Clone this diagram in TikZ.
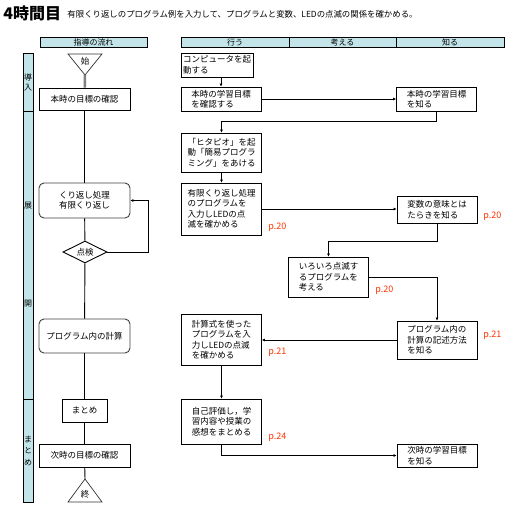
\documentclass[tikz,border=0pt]{standalone}
\usepackage{fontspec}
\setmainfont{Noto Sans CJK JP}
\usetikzlibrary{arrows.meta,shapes.geometric}
\definecolor{hdrblue}{RGB}{195,228,232}
\definecolor{pgred}{RGB}{255,51,0}

\begin{document}
\begin{tikzpicture}[x=1pt, y=-1pt, line width=0.9pt, every node/.style={font=\fontsize{8.5}{10.5}\selectfont, inner sep=0pt}, >={Latex[length=3pt,width=3pt]},
	hdr/.style={draw, fill=hdrblue, minimum height=10, font=\fontsize{8}{9}\selectfont},
	bar/.style={draw, fill=hdrblue, minimum width=10, align=center, font=\fontsize{8}{10}\selectfont},
	flow/.style={draw, fill=white, minimum width=91, align=center},
	rflow/.style={flow, rounded corners=5pt, draw=black!75},
	act/.style={draw, fill=white, minimum width=80, align=left},
	pg/.style={anchor=west, text=pgred, font=\fontsize{9}{10}\selectfont}]
	\useasboundingbox (0,0) rectangle (520,520);
	\node[anchor=west, font=\fontsize{16}{16}\selectfont\bfseries] (title) at (3,13) {4時間目};
	\node[anchor=west, font=\fontsize{8.4}{9}\selectfont] (aim) at (67,14) {有限くり返しのプログラム例を入力して、プログラムと変数、LEDの点滅の関係を確かめる。};
	\node[hdr, minimum width=107] (hflow) at (93.5,42) {指導の流れ};
	\node[hdr, minimum width=108] (hdo) at (235,42) {行う};
	\node[hdr, minimum width=107] (hthink) at (342.5,42) {考える};
	\node[hdr, minimum width=108] (hknow) at (450,42) {知る};
	\node[bar, minimum height=58] (intro) at (28,82) {導\\入};
	\node[bar, minimum height=288] (dev) at (28,255) {展\\[88pt]開};
	\node[bar, minimum height=103] (wrap) at (28,450.5) {ま\\[1.5pt]と\\[1.5pt]め};
	\draw[fill=white, line width=0.7pt, draw=black!80] (68,54) -- (102,54) -- (85,75) -- cycle;
	\draw[fill=white, line width=0.7pt, draw=black!80] (68,502) -- (102,502) -- (85,479) -- cycle;
	\coordinate (s0) at (85,75);
	\coordinate (e0) at (85,479);
	\node (start) at (85,61) {始};
	\node (stop) at (85,494) {終};
	\node[flow, minimum height=22] (goal) at (84.5,99) {本時の目標の確認};
	\node[rflow, minimum height=35] (loop) at (84.5,200.5) {くり返し処理\\有限くり返し};
	\node[draw, diamond, fill=white, aspect=2, minimum width=44, minimum height=22] (check) at (85,252) {点検};
	\node[rflow, minimum height=34] (calc) at (84.5,336) {プログラム内の計算};
	\node[flow, minimum width=45, minimum height=23] (sum) at (84.5,410.5) {まとめ};
	\node[flow, minimum height=23] (nextgoal) at (84.5,455.5) {次時の目標の確認};
	\draw[gray, line width=2.5pt] (s0) -- (goal);
	\draw (goal) -- (loop);
	\draw (loop) -- (check);
	\draw (check) -- (calc);
	\draw (calc) -- (sum);
	\draw (sum) -- (nextgoal);
	\draw (nextgoal) -- (e0);
	\draw[->] (check.east) -- ++(41,0) |- (loop.east);
	\node[act, minimum width=72, minimum height=24] (boot) at (217,65) {コンピュータを起\\動する};
	\node[act, minimum height=24] (confirm) at (221,99) {本時の学習目標\\を確認する};
	\node[act, minimum height=24] (aimknow) at (436.5,99) {本時の学習目標\\を知る};
	\node[act, minimum height=39] (launch) at (221.5,152.5) {「ヒタピオ」を起\\動「簡易プログラ\\ミング」をあける};
	\node[act, minimum height=52] (blink) at (221.5,209) {有限くり返し処理\\のプログラムを\\入力しLEDの点\\滅を確かめる};
	\node[act, minimum height=27] (varknow) at (437,209.5) {変数の意味とは\\たらきを知る};
	\node[act, minimum height=40] (idea) at (328.5,277) {いろいろ点滅す\\るプログラムを\\考える};
	\node[act, minimum height=38] (howknow) at (437,340) {プログラム内の\\計算の記述方法\\を知る};
	\node[act, minimum height=51] (formula) at (221.5,339.5) {計算式を使った\\プログラムを入\\力しLEDの点滅\\を確かめる};
	\node[act, minimum height=45] (selfeval) at (221.5,421.5) {自己評価し，学\\習内容や授業の\\感想をまとめる};
	\node[act, minimum height=23] (nextknow) at (437,455.5) {次時の学習目標\\を知る};
	\draw[->] (confirm.north |- boot.south) -- (confirm.north);
	\draw[->] (confirm) -- (aimknow);
	\draw[->] (aimknow.south) -- ++(0,10) -| (launch.north);
	\draw[->] (launch) -- (blink);
	\draw[->] (blink.east) -- (blink.east -| varknow.west);
	\draw[->] (varknow.south) -- ++(0,18) -| (idea.north);
	\draw[->] (idea.east) -| (howknow.north);
	\draw[->] (howknow.west) -- (howknow.west -| formula.east);
	\draw[->] (formula) -- (selfeval);
	\draw[->] (selfeval.south) |- (nextknow.west);
	\node[pg] (pg1) at (268,227) {p.20};
	\node[pg] (pg2) at (483,216) {p.20};
	\node[pg] (pg3) at (375,290) {p.20};
	\node[pg] (pg4) at (483,335) {p.21};
	\node[pg] (pg5) at (268,352) {p.21};
	\node[pg] (pg6) at (268,437) {p.24};
\end{tikzpicture}
\end{document}
